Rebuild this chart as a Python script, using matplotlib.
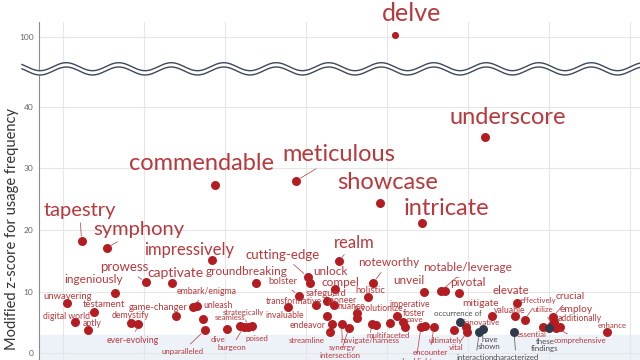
import numpy as np
import matplotlib.pyplot as plt

plt.rcParams['font.family'] = ['Lato', 'DejaVu Sans']

# words (red) and phrases (dark), x position and modified z-score
red_words = ['delve', 'underscore', 'commendable', 'meticulous', 'showcase', 'intricate',
             'tapestry', 'symphony', 'impressively', 'realm', 'cutting-edge', 'prowess',
             'captivate', 'groundbreaking', 'unlock', 'compel', 'noteworthy', 'ingeniously',
             'unveil', 'notable/leverage', 'pivotal', 'elevate', 'holistic', 'bolster',
             'safeguard', 'unwavering', 'testament', 'game-changer', 'digital world', 'aptly',
             'demystify', 'ever-evolving', 'embark/enigma', 'unleash', 'unparalleled', 'dive',
             'seamless', 'burgeon', 'strategically', 'poised', 'transformative', 'pioneer',
             'nuance', 'invaluable', 'endeavor', 'synergy', 'intersection', 'streamline',
             'revolutionize', 'navigate/harness', 'multifaceted', 'imperative', 'foster', 'pave',
             'shed light', 'encounter', 'ultimately', 'innovative', 'vital', 'mitigate',
             'valuable', 'effectively', 'essential', 'crucial', 'employ', 'utilize',
             'additionally', 'comprehensive', 'enhance']
red_x = [5.10, 6.21, 2.88, 3.88, 4.91, 5.43, 1.23, 1.54, 2.84, 4.41, 4.02, 2.02, 2.35, 3.38,
         4.05, 4.36, 4.83, 1.64, 5.46, 5.67, 5.89, 6.60, 4.77, 3.91, 4.26, 1.05, 1.38, 2.40,
         1.15, 1.31, 1.84, 1.93, 2.60, 2.73, 2.75, 3.02, 3.19, 3.23, 3.28, 3.33, 4.12, 4.35,
         4.26, 3.78, 4.32, 4.44, 4.53, 4.30, 4.63, 4.81, 5.04, 5.12, 5.20, 5.22, 5.42, 5.58,
         5.83, 5.98, 5.99, 6.30, 6.58, 6.70, 6.93, 7.05, 7.06, 7.04, 7.14, 7.09, 7.72]
red_z = [100.3, 35.1, 27.3, 28.0, 24.4, 21.1, 18.2, 17.1, 15.1, 15.0, 12.4, 11.5, 11.4, 11.4,
         11.4, 10.4, 11.4, 9.8, 9.9, 10.1, 9.8, 8.1, 9.1, 9.3, 8.5, 8.1, 6.7, 6.0, 5.0, 3.7,
         4.9, 4.7, 7.5, 5.5, 3.7, 3.9, 4.4, 4.2, 4.2, 4.4, 7.8, 7.8, 6.0, 7.5, 4.7, 4.7, 4.1,
         3.4, 6.5, 4.7, 4.9, 6.0, 5.0, 4.2, 4.2, 4.2, 3.7, 4.2, 3.4, 6.0, 6.0, 5.4, 4.2, 5.9,
         5.0, 4.6, 4.2, 4.1, 3.4]
# second dot of the paired words, and one unlabeled dot
extra_x = [5.72, 2.65, 4.63, 4.86, 5.47]
extra_z = [10.1, 7.6, 5.7, 4.6, 4.4]

dark_phrases = ['occurrence of', 'have shown', 'interaction between', 'characterized by',
                'these findings']
dark_x = [5.90, 6.19, 6.14, 6.57, 7.00]
dark_z = [5.0, 3.9, 3.4, 3.4, 4.1]

# label layout: offset from the dot in pixels (right, up), leader line, font size
label_off = {
    'delve': (16, 21, 0), 'underscore': (23, 20, 0), 'commendable': (-14, 22, 0),
    'meticulous': (43, 26, 1), 'showcase': (8, 20, 0), 'intricate': (25, 15, 0),
    'tapestry': (-2, 31, 1), 'symphony': (32, 18, 1), 'impressively': (-23, 10, 0),
    'realm': (15, 18, 1), 'cutting-edge': (-25, 22, 1), 'prowess': (-21, 15, 1),
    'captivate': (3, 10, 0), 'groundbreaking': (-9, 11, 0), 'unlock': (20, 11, 0),
    'compel': (5, 7, 0), 'noteworthy': (15, 20, 1), 'ingeniously': (-21, 13, 0),
    'unveil': (-15, 12, 0), 'notable/leverage': (26, 23, 1), 'pivotal': (9, 10, 0),
    'elevate': (-6, 13, 0), 'holistic': (2, 7, 0), 'bolster': (-16, 14, 1),
    'safeguard': (-1, 7, 0), 'unwavering': (1, 7, 0), 'testament': (10, 7, 0),
    'game-changer': (-18, 9, 0), 'digital world': (-9, 6, 0), 'aptly': (4, 7, 0),
    'demystify': (-1, 7, 0), 'ever-evolving': (-6, -16, 1), 'embark/enigma': (14, 15, 1),
    'unleash': (15, 14, 0), 'unparalleled': (-22, -21, 1), 'dive': (-9, -10, 0),
    'seamless': (-10, 8, 0), 'burgeon': (-12, -20, 1), 'strategically': (-4, 15, 1),
    'poised': (5, -13, 1), 'transformative': (-22, 4, 0), 'pioneer': (8, 5, 0),
    'nuance': (24, 10, 0), 'invaluable': (-3, -9, 0), 'endeavor': (-24, -1, 0),
    'synergy': (1, -23, 1), 'intersection': (-9, -28, 1), 'streamline': (-24, -8, 1),
    'revolutionize': (21, 5, 0), 'navigate/harness': (-2, -16, 1),
    'multifaceted': (-2, -13, 1), 'imperative': (13, 12, 0), 'foster': (11, 9, 0),
    'pave': (10, 8, 0), 'shed light': (-5, -34, 1), 'encounter': (-4, -25, 1),
    'ultimately': (-9, -10, 0), 'innovative': (15, 5, 0), 'vital': (-11, -15, 1),
    'mitigate': (-12, 13, 0), 'valuable': (-5, 6, 0), 'effectively': (13, 19, 1),
    'essential': (-12, -7, 0), 'crucial': (17, 20, 1), 'employ': (22, 13, 1),
    'utilize': (-9, 15, 1), 'additionally': (19, 9, 0), 'comprehensive': (24, -13, 1),
    'enhance': (5, 7, 0),
    'occurrence of': (-2, 9, 0), 'have shown': (6, -14, 0),
    'interaction between': (-4, -29, 1), 'characterized by': (2, -29, 1),
    'these findings': (-4, -17, 0),
}
big = ['underscore', 'commendable', 'meticulous', 'showcase', 'intricate']
mid = ['groundbreaking', 'unlock', 'compel', 'noteworthy', 'ingeniously', 'unveil',
       'notable/leverage', 'pivotal']
small = ['bolster', 'testament', 'game-changer', 'unwavering', 'safeguard', 'holistic']
smallish = ['digital world', 'aptly', 'demystify', 'embark/enigma', 'unleash', 'transformative',
            'pioneer', 'nuance', 'invaluable', 'endeavor', 'revolutionize', 'imperative',
            'foster', 'valuable', 'additionally', 'ever-evolving']
label_size = {'delve': 18, 'tapestry': 14.5, 'symphony': 14.5, 'impressively': 12, 'realm': 12,
              'captivate': 10, 'prowess': 9.5, 'cutting-edge': 9.5, 'elevate': 8.2,
              'crucial': 7.4, 'employ': 7.4, 'mitigate': 7.4}
for w in big:
    label_size[w] = 17
for w in mid:
    label_size[w] = 8.5
for w in small:
    label_size[w] = 6.8
for w in smallish:
    label_size[w] = 6.2
two_line = {'have shown': 'have\nshown', 'interaction between': 'interaction\nbetween',
            'characterized by': 'characterized\nby', 'these findings': 'these\nfindings'}

dot_red = '#b31d22'
txt_red = '#b8383b'
dot_dark = '#2d3b4c'
txt_dark = '#4d4d4d'

fig = plt.figure(figsize=(6.4, 3.6), dpi=100)
ax = fig.add_axes([39 / 640, -11.5 / 360, 601 / 640, 349.5 / 360])

# broken y axis: 46..95.5 squeezed into a thin strip
brk_in = [-50, 46, 95.5, 200]
brk_out = [-50, 46, 46.9, 151.4]


def fwd(v):
    return np.interp(v, brk_in, brk_out)


def inv(v):
    return np.interp(v, brk_out, brk_in)


ax.set_yscale('function', functions=(fwd, inv))
ax.set_ylim(-3, 102.4)
ax.set_xlim(0.704, 8.124)
ax.set_yticks([0, 10, 20, 30, 40, 100])
ax.set_xticks(range(1, 9))
ax.set_xticklabels([])
ax.tick_params(length=0)
ax.tick_params(axis='y', labelsize=6, labelcolor='#666666', pad=4)
ax.grid(color='#e6e6e6', lw=0.8)
ax.set_axisbelow(True)
for s in ['top', 'right', 'bottom']:
    ax.spines[s].set_visible(False)
ax.spines['left'].set_color('#8c8c8c')
ax.axhspan(-3, 3, color='#edf1f8', zorder=0.3)

ax.scatter(red_x[1:], red_z[1:], s=42, color=dot_red, zorder=3, lw=0)
ax.scatter(red_x[:1], red_z[:1], s=26, color=dot_red, zorder=3, lw=0)
ax.scatter(extra_x, extra_z, s=42, color=dot_red, zorder=3, lw=0)
ax.scatter(dark_x, dark_z, s=42, color=dot_dark, zorder=4, lw=0)

for words, xs, zs, col in [(red_words, red_x, red_z, txt_red),
                           (dark_phrases, dark_x, dark_z, txt_dark)]:
    for w, x, z in zip(words, xs, zs):
        dx, dy, lead = label_off[w]
        arrow = None
        if lead:
            arrow = dict(arrowstyle='-', color=col, lw=0.5, shrinkA=1, shrinkB=3.5)
        ax.annotate(two_line.get(w, w), (x, z), xytext=(dx * 0.72, dy * 0.72),
                    textcoords='offset points', ha='center', va='center',
                    fontsize=label_size.get(w, 5.7), color=col, linespacing=0.95,
                    annotation_clip=False, arrowprops=arrow, zorder=5)

fig.text(12 / 640, 1 - 229 / 360, 'Modified z-score for usage frequency', rotation=90,
         ha='center', va='center', fontsize=10.5, color='#333333')

# wavy break marker drawn in pixel space on top
top = fig.add_axes([0, 0, 1, 1])
top.set_xlim(0, 640)
top.set_ylim(360, 0)
top.axis('off')
wx = np.linspace(22, 640, 800)
wave = 4 * np.cos(2 * np.pi * (wx - 40) / 52.5)
top.fill_between(wx, 66.7 + wave, 71 + wave, color='white', lw=0)
top.plot(wx, 66.7 + wave, color='#3d4859', lw=1.0)
top.plot(wx, 71 + wave, color='#3d4859', lw=1.0)

fig.savefig('out.png', dpi=100)
